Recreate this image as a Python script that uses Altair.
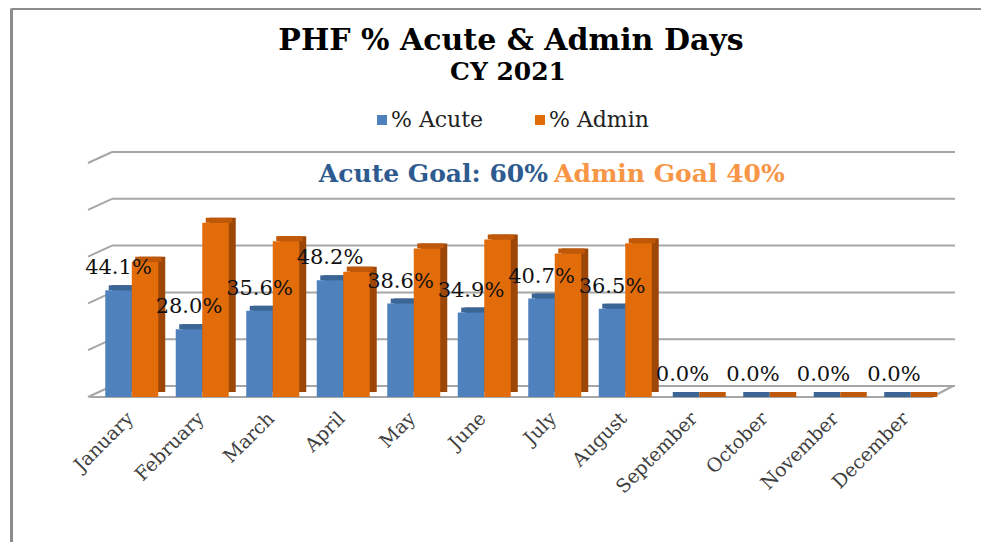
import altair as alt
import pandas as pd

# ---- data ----
months = ["January", "February", "March", "April", "May", "June",
          "July", "August", "September", "October", "November", "December"]
acute = [44.1, 28.0, 35.6, 48.2, 38.6, 34.9, 40.7, 36.5, 0.0, 0.0, 0.0, 0.0]
admin = [55.9, 72.0, 64.4, 51.8, 61.4, 65.1, 59.3, 63.5, 0.0, 0.0, 0.0, 0.0]
series_names = ["% Acute", "% Admin"]
grid_values = [0, 20, 40, 60, 80, 100]

title_text = "PHF % Acute & Admin Days"
subtitle_text = "CY 2021"
goal_acute_text = "Acute Goal: 60%"
goal_admin_text = "Admin  Goal 40%"

# ---- styles ----
FONT = "DejaVu Serif"
BLUE, BLUE_TOP, BLUE_SIDE = "#4F81BD", "#3B6595", "#345A86"
ORANGE, ORANGE_TOP, ORANGE_SIDE = "#E36C0A", "#C0580A", "#9C4708"
GRID = "#A6A6A6"
W, H = 846, 242
BAR_W = 26.5

df = pd.DataFrame({"month": months, "acute": acute, "admin": admin})
df["label"] = [f"{v:.1f}%" for v in acute]

xenc = alt.X("month:N", sort=months,
             scale=alt.Scale(paddingInner=0, paddingOuter=0),
             axis=alt.Axis(title=None, ticks=False, domain=False, labelAngle=-45,
                           labelAlign="right", labelBaseline="middle",
                           labelFont=FONT, labelFontSize=19, labelColor="#404040",
                           labelPadding=18))
yscale = alt.Scale(domain=[0, 100])


def bars(field, dx, front, top, side):
    base = alt.Chart(df)
    depth = base.mark_bar(width=BAR_W, xOffset=dx + 7, yOffset=-5, y2Offset=-5,
                          color=side).encode(
        x=xenc, y=alt.Y(f"{field}:Q", scale=yscale, axis=None))
    topf = base.mark_bar(width=BAR_W, xOffset=dx + 3.5, yOffset=-5, y2Offset=0,
                         color=top).encode(
        x=xenc, y=alt.Y(f"{field}:Q", scale=yscale, axis=None), y2=alt.Y2(f"{field}:Q"))
    frontf = base.mark_bar(width=BAR_W, xOffset=dx, color=front).encode(
        x=xenc, y=alt.Y(f"{field}:Q", scale=yscale, axis=None))
    return [depth, topf, frontf]


grid_df = pd.DataFrame({"g": grid_values})
gscale = alt.Scale(domain=[0, 100], range=[231, -3])
gridlines = alt.Chart(grid_df).mark_rule(color=GRID, strokeWidth=2).encode(
    y=alt.Y("g:Q", scale=gscale, axis=None), x=alt.value(17), x2=alt.value(860))
diag = alt.Chart(grid_df).mark_rule(color=GRID, strokeWidth=2, yOffset=11).encode(
    y=alt.Y("g:Q", scale=gscale, axis=None), y2=alt.Y2("g:Q"),
    x=alt.value(-7), x2=alt.value(17))

one = pd.DataFrame({"k": [0]})
floor_front = alt.Chart(one).mark_rule(color=GRID, strokeWidth=2).encode(
    x=alt.value(-5), x2=alt.value(837), y=alt.value(H))
floor_right = alt.Chart(one).mark_rule(color=GRID, strokeWidth=2).encode(
    x=alt.value(837), x2=alt.value(858), y=alt.value(H), y2=alt.value(231))
frame_left = alt.Chart(one).mark_rule(color="#8C8C8C", strokeWidth=3).encode(
    x=alt.value(-83.5), y=alt.value(-146.5), y2=alt.value(420))
frame_top = alt.Chart(one).mark_rule(color="#8C8C8C", strokeWidth=3).encode(
    x=alt.value(-83.5), x2=alt.value(920), y=alt.value(-146.5))

labels = alt.Chart(df).mark_text(font=FONT, fontSize=21, color="#111111",
                                 xOffset=-11.75, dy=-16, baseline="alphabetic").encode(
    x=xenc, y=alt.Y("acute:Q", scale=yscale, axis=None), text="label:N")


def text(t, x, y, size, color="#000000", weight="normal", align="center"):
    return alt.Chart(pd.DataFrame({"t": [t]})).mark_text(
        font=FONT, fontSize=size, fontWeight=weight, color=color, align=align,
        baseline="alphabetic").encode(text="t:N", x=alt.value(x), y=alt.value(y))


title = text(title_text, 416, -105, 30, weight="bold")
subtitle = text(subtitle_text, 413, -75, 25, weight="bold")
goal1 = text(goal_acute_text, 453, 27, 25, color="#2E5B8F", weight="bold", align="right")
goal2 = text(goal_admin_text, 459, 27, 25, color="#F79646", weight="bold", align="left")

leg_df = pd.DataFrame({"s": series_names, "c": [BLUE, ORANGE],
                       "xs": [287, 445], "xt": [296, 454]})
leg_sq = alt.Chart(leg_df).mark_square(size=100, opacity=1).encode(
    x=alt.X("xs:Q", scale=None), y=alt.value(-35),
    color=alt.Color("c:N", scale=None))
leg_tx = alt.Chart(leg_df).mark_text(font=FONT, fontSize=22, align="left",
                                     baseline="alphabetic", color="#222222").encode(
    x=alt.X("xt:Q", scale=None), y=alt.value(-28), text="s:N")

layers = [frame_left, frame_top, gridlines, diag, floor_front, floor_right]
layers += bars("acute", -11.75, BLUE, BLUE_TOP, BLUE_SIDE)
layers += bars("admin", 14.75, ORANGE, ORANGE_TOP, ORANGE_SIDE)
layers += [labels, title, subtitle, goal1, goal2, leg_sq, leg_tx]

chart = alt.layer(*layers).resolve_scale(y="independent").properties(
    width=W, height=H,
    autosize=alt.AutoSizeParams(type="none"),
    padding={"left": 87, "top": 147, "right": 40, "bottom": 145},
    background="white",
).configure_view(stroke=None)

chart.save("out.html", embed_options={"renderer": "svg", "actions": False})
